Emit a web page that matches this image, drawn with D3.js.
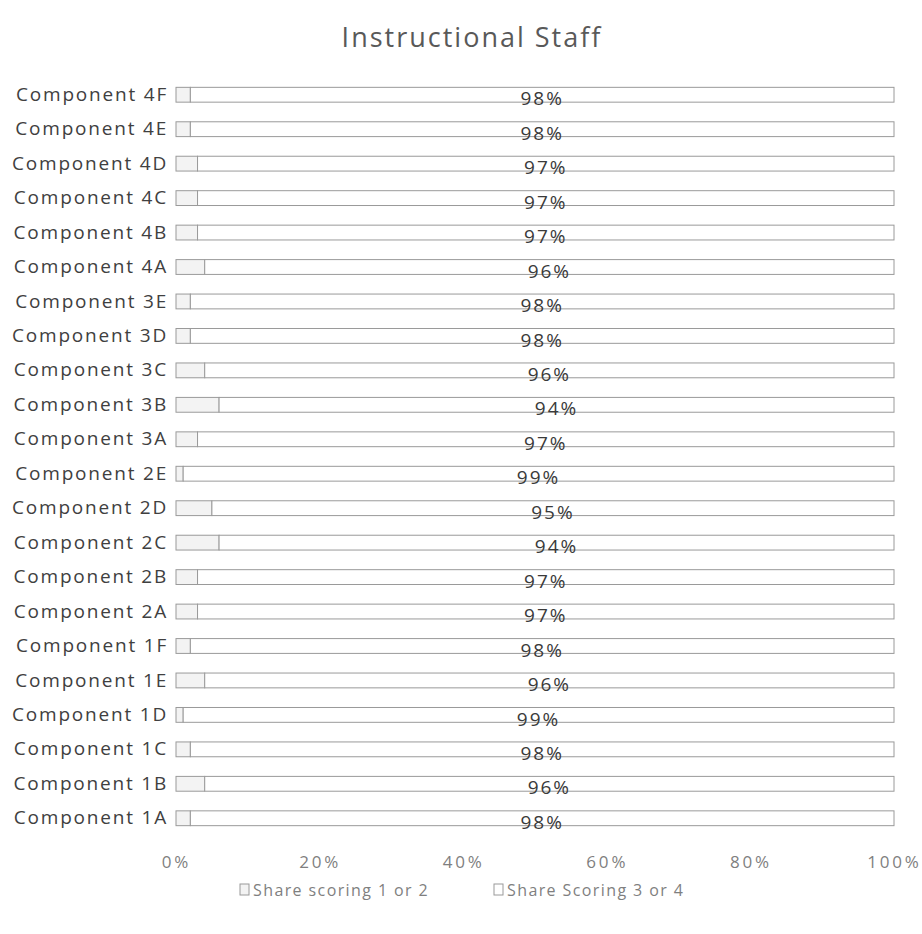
<!DOCTYPE html>
<html>
<head>
<meta charset="utf-8">
<script src="https://cdn.jsdelivr.net/npm/d3@7"></script>
<style>
  body { margin: 0; background: #fff; }
  svg text { font-family: "Open Sans", Lato, sans-serif; }
</style>
</head>
<body>
<svg id="chart"></svg>
<script>
// categories top to bottom
var components = ["Component 4F", "Component 4E", "Component 4D", "Component 4C", "Component 4B", "Component 4A",
    "Component 3E", "Component 3D", "Component 3C", "Component 3B", "Component 3A",
    "Component 2E", "Component 2D", "Component 2C", "Component 2B", "Component 2A",
    "Component 1F", "Component 1E", "Component 1D", "Component 1C", "Component 1B", "Component 1A"];
var low = [2, 2, 3, 3, 3, 4, 2, 2, 4, 6, 3, 1, 5, 6, 3, 3, 2, 4, 1, 2, 4, 2];       // Share scoring 1 or 2
var high = [98, 98, 97, 97, 97, 96, 98, 98, 96, 94, 97, 99, 95, 94, 97, 97, 98, 96, 99, 98, 96, 98]; // Share Scoring 3 or 4
var ticks = [0, 0.2, 0.4, 0.6, 0.8, 1];
var seriesNames = ["Share scoring 1 or 2", "Share Scoring 3 or 4"];

var width = 922, height = 934;
var margin = {top: 77, left: 176, right: 28, bottom: 100};

var svg = d3.select("#chart").attr("width", width).attr("height", height);

var data = components.map(function(c, i){
    return {name: c, low: low[i], high: high[i]};
});

var x = d3.scaleLinear().domain([0, 1]).range([margin.left, width - margin.right]);
var y = d3.scaleBand()
    .domain(components)
    .range([margin.top, 836])
    .paddingInner(0.57)
    .paddingOuter(0.3);

svg.append("text")
    .attr("x", 472).attr("y", 38)
    .attr("dy", "0.35em")
    .attr("text-anchor", "middle")
    .style("font-size", "27px")
    .style("letter-spacing", "2px")
    .style("fill", "#595959")
    .text("Instructional Staff");

var stack = d3.stack().keys(["low", "high"]);
var layers = stack(data);
var fills = ["#f3f3f3", "#ffffff"];

var g = svg.append("g");
layers.forEach(function(layer, k){
    g.selectAll("rect.s" + k)
        .data(layer)
        .enter()
        .append("rect")
        .attr("class", "s" + k)
        .attr("x", function(d){ return x(d[0] / 100); })
        .attr("y", function(d){ return y(d.data.name); })
        .attr("width", function(d){ return x(d[1] / 100) - x(d[0] / 100); })
        .attr("height", y.bandwidth())
        .style("fill", fills[k])
        .style("stroke", "#9a9a9a")
        .style("stroke-width", 1);
});

// value labels on second series
g.selectAll("text.val")
    .data(layers[1])
    .enter()
    .append("text")
    .attr("class", "val")
    .attr("x", function(d){ return (x(d[0] / 100) + x(d[1] / 100)) / 2; })
    .attr("y", function(d){ return y(d.data.name) + y.bandwidth() / 2 + 4; })
    .attr("dy", "0.35em")
    .attr("text-anchor", "middle")
    .style("font-size", "19px")
    .style("letter-spacing", "2px")
    .style("fill", "#3a3a3a")
    .text(function(d){ return d.data.high + "%"; });

// category axis
var yAxis = svg.append("g")
    .attr("transform", "translate(" + (margin.left - 8) + ",0)")
    .call(d3.axisLeft(y).tickSize(0).tickPadding(0));
yAxis.select(".domain").remove();
yAxis.selectAll("text")
    .style("font-size", "19px")
    .style("letter-spacing", "1.8px")
    .style("fill", "#404040")
    .style("font-family", "'Open Sans', Lato, sans-serif");

// value axis
var xAxis = svg.append("g")
    .attr("transform", "translate(0,856)")
    .call(d3.axisBottom(x).tickValues(ticks).tickFormat(d3.format(".0%")).tickSize(0).tickPadding(0));
xAxis.select(".domain").remove();
xAxis.selectAll("text")
    .style("font-size", "17px")
    .style("letter-spacing", "2.8px")
    .style("fill", "#7f7f7f")
    .style("font-family", "'Open Sans', Lato, sans-serif");

// legend
var legend = svg.append("g").attr("transform", "translate(0,890)");
var legendX = [240, 494];
seriesNames.forEach(function(name, i){
    var item = legend.append("g").attr("transform", "translate(" + legendX[i] + ",0)");
    item.append("rect")
        .attr("x", 0).attr("y", -6)
        .attr("width", 9).attr("height", 11)
        .style("fill", fills[i])
        .style("stroke", "#9a9a9a");
    item.append("text")
        .attr("x", 13).attr("y", 0)
        .attr("dy", "0.35em")
        .style("font-size", "16px")
        .style("letter-spacing", "1.4px")
        .style("fill", "#7f7f7f")
        .text(name);
});
</script>
</body>
</html>
